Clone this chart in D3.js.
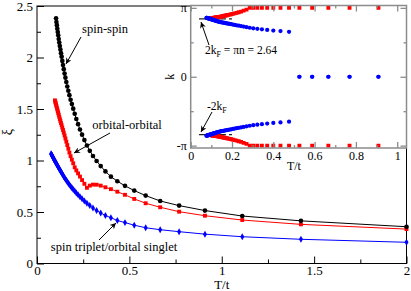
<!DOCTYPE html>
<html><head><meta charset="utf-8">
<script src="https://cdn.jsdelivr.net/npm/d3@7"></script>
<style>body{margin:0;background:#fff}svg{display:block}svg text{font-family:"Liberation Serif","Times New Roman",Tinos,"Nimbus Roman","DejaVu Serif",serif !important;fill:#000}</style>
</head><body><svg id="c" width="411" height="291"></svg>
<script>
// Temperatures T/t of the data points (shared by all series)
const T = [2.0000,1.4286,1.1111,0.9091,0.7692,0.6667,0.5882,0.5263,0.4762,0.4348,0.4000,0.3704,0.3448,0.3226,0.3030,0.2857,0.2703,0.2564,0.2439,0.2326,0.2222,0.2128,0.2041,0.1961,0.1887,0.1818,0.1754,0.1695,0.1639,0.1587,0.1538,0.1493,0.1449,0.1408,0.1370,0.1333,0.1299,0.1266,0.1235,0.1205,0.1176,0.1149,0.1124,0.1099,0.1075,0.1053,0.1031,0.1010,0.0990,0.0971,0.0952,0.0935,0.0917,0.0901,0.0885,0.0870,0.0855,0.0840,0.0826,0.0813,0.0800,0.0787,0.0775,0.0763];
// correlation lengths xi
const spinSpin = [0.357,0.414,0.461,0.514,0.562,0.607,0.659,0.708,0.754,0.799,0.843,0.894,0.946,0.995,1.044,1.094,1.146,1.198,1.251,1.301,1.353,1.403,1.454,1.503,1.548,1.590,1.634,1.677,1.718,1.762,1.804,1.844,1.887,1.927,1.967,2.008,2.042,2.077,2.112,2.145,2.180,2.215,2.247,2.280,2.314,2.345,2.380];
const orbOrb = [0.334,0.380,0.422,0.464,0.503,0.546,0.585,0.627,0.667,0.697,0.722,0.740,0.756,0.765,0.766,0.756,0.735,0.774,0.810,0.844,0.875,0.904,0.934,0.973,1.008,1.042,1.077,1.114,1.150,1.183,1.214,1.243,1.271,1.296,1.320,1.343,1.364,1.384,1.403,1.424,1.444,1.462,1.479,1.497,1.513,1.528,1.543,1.558,1.571,1.584];
const tripSing = [0.206,0.235,0.260,0.285,0.309,0.328,0.347,0.372,0.397,0.418,0.444,0.466,0.491,0.515,0.538,0.563,0.585,0.606,0.629,0.649,0.667,0.685,0.703,0.719,0.735,0.749,0.764,0.780,0.794,0.807,0.820,0.832,0.845,0.858,0.869,0.880,0.890,0.900,0.910,0.919,0.929,0.937,0.945,0.953,0.961,0.968,0.975,0.982,0.988,0.995,1.001,1.007,1.013,1.018,1.024,1.029,1.034,1.039,1.044,1.048,1.053,1.057,1.061,1.065];
// inset: wavevector k of the correlation (shown at +k and -k)
const kBlue = [0,0,0,0,0,0,0,0,2.050,2.082,2.108,2.135,2.163,2.186,2.207,2.235,2.263,2.287,2.310,2.330,2.348,2.365,2.381,2.396,2.410,2.422,2.434,2.445,2.456,2.465,2.474,2.483,2.491,2.499,2.509,2.520,2.530,2.540,2.550,2.559,2.567,2.575,2.583,2.590,2.598,2.604,2.611,2.617,2.623,2.629,2.634,2.640,2.645,2.650,2.655,2.659,2.664,2.668,2.672,2.676,2.680,2.684,2.688,2.691];
const kRed = [3.142,3.142,3.142,3.142,3.142,3.142,3.142,3.142,3.142,3.142,3.142,3.142,3.142,3.142,3.142,3.142,3.060,3.015,2.973,2.942,2.916,2.892,2.870,2.851,2.835,2.820,2.806,2.793,2.781,2.769,2.758,2.749,2.741,2.734,2.728,2.722,2.716,2.710,2.705,2.700,2.695,2.690,2.686,2.682,2.678,2.674,2.670,2.667,2.663,2.660];
const kF2 = 2.64;
const kF2Range = [0.04, 0.2];
const xTicks = [0,0.5,1,1.5,2];
const yTicks = [0,0.5,1,1.5,2,2.5];
const insetXTicks = [0,0.2,0.4,0.6,0.8,1];
const insetKTicks = [-Math.PI,0,Math.PI];
const insetKLabels = ["-\u03c0","0","\u03c0"];

const FONT = '"Liberation Serif","Times New Roman",Tinos,"Nimbus Roman","DejaVu Serif",serif';
const svg = d3.select("#c");
const defs = svg.append("defs");
defs.append("marker").attr("id","ah").attr("viewBox","0 0 10 10").attr("refX",10).attr("refY",5)
  .attr("markerWidth",7).attr("markerHeight",6).attr("markerUnits","userSpaceOnUse").attr("orient","auto")
  .append("path").attr("d","M0,0 L10,5 L0,10 L3,5 z").attr("fill","#000");

// ---------- main plot ----------
const x = d3.scaleLinear().domain([0,2]).range([37,406.5]);
const y = d3.scaleLinear().domain([0,2.5]).range([263.5,6]);
const g = svg.append("g");

function minor(vals, step, lo, hi){ const r=[]; for(let v=lo; v<=hi+1e-9; v+=step){ if(!vals.some(t=>Math.abs(t-v)<1e-6)) r.push(+v.toFixed(4)); } return r; }

g.append("g").attr("transform",`translate(0,${y(0)})`)
  .call(d3.axisBottom(x).tickValues(xTicks).tickFormat(d3.format("")).tickSize(-7).tickSizeOuter(0).tickPadding(2));
g.append("g").attr("transform",`translate(0,${y(0)})`)
  .call(d3.axisBottom(x).tickValues(minor(xTicks,0.25,0,2)).tickFormat("").tickSize(-4).tickSizeOuter(0));
g.append("g").attr("transform",`translate(${x(0)},0)`)
  .call(d3.axisLeft(y).tickValues(yTicks).tickFormat(d3.format("")).tickSize(-7).tickSizeOuter(0).tickPadding(4));
g.append("g").attr("transform",`translate(${x(0)},0)`)
  .call(d3.axisLeft(y).tickValues(minor(yTicks,0.25,0,2.5)).tickFormat("").tickSize(-4).tickSizeOuter(0));
g.selectAll("g").attr("font-family",FONT);
g.selectAll(".tick text").attr("font-size",13).attr("font-family",FONT);
g.selectAll(".domain").remove();
g.selectAll(".tick line").attr("stroke","#000");
g.append("rect").attr("x",x(0)).attr("y",y(2.5)).attr("width",x(2)-x(0)).attr("height",y(0)-y(2.5))
  .attr("fill","none").attr("stroke","#000").attr("stroke-width",1);

g.append("text").attr("x",x(1)).attr("y",289).attr("text-anchor","middle").attr("font-size",13).attr("font-family",FONT).text("T/t");
g.append("text").attr("transform","translate(12,132) rotate(-90)").attr("text-anchor","middle").attr("font-size",14).attr("font-family",FONT).text("\u03be");

const line = d3.line().x(d=>x(d[0])).y(d=>y(d[1]));
function series(vals, color, sym, size){
  const pts = vals.map((v,i)=>[T[i],v]);
  g.append("path").attr("d",line(pts)).attr("fill","none").attr("stroke",color).attr("stroke-width",1);
  g.append("g").selectAll("path").data(pts).join("path")
    .attr("transform",d=>`translate(${x(d[0])},${y(d[1])})`)
    .attr("d",d3.symbol().type(sym).size(size)).attr("fill",color);
}
series(tripSing,"#0000ff",d3.symbolDiamond,14);
series(orbOrb,"#ff0000",d3.symbolSquare,15);
series(spinSpin,"#000000",d3.symbolCircle,17);

function arrow(x1,y1,x2,y2){ g.append("line").attr("x1",x1).attr("y1",y1).attr("x2",x2).attr("y2",y2)
  .attr("stroke","#000").attr("stroke-width",1).attr("marker-end","url(#ah)"); }
function label(xp,yp,s){ g.append("text").attr("x",xp).attr("y",yp).attr("text-anchor","middle").attr("font-size",12.5).attr("font-family",FONT).text(s); }
label(105,33,"spin-spin");
arrow(81,37,66,64);
label(127,129,"orbital-orbital");
arrow(110,133,74,153);
label(114,251,"spin triplet/orbital singlet");
arrow(99,240,116,223);

// ---------- inset ----------
const xi = d3.scaleLinear().domain([0,1.045]).range([190.7,406.5]);
const ki = d3.scaleLinear().domain([-3.25,3.25]).range([148,5.5]);
const gi = svg.append("g");
gi.append("rect").attr("x",xi(0)).attr("y",ki(3.25)).attr("width",xi(1.045)-xi(0)).attr("height",ki(-3.25)-ki(3.25)).attr("fill","#fff");
defs.append("clipPath").attr("id","ic").append("rect").attr("x",xi(0)).attr("y",ki(3.25)-3).attr("width",xi(1.045)-xi(0)+1).attr("height",ki(-3.25)-ki(3.25)+6);
const gc = gi.append("g").attr("clip-path","url(#ic)");

gc.selectAll("line.kf").data([kF2,-kF2]).join("line").attr("class","kf")
  .attr("x1",xi(kF2Range[0])).attr("x2",xi(kF2Range[1])).attr("y1",d=>ki(d)).attr("y2",d=>ki(d))
  .attr("stroke","#222").attr("stroke-width",1.2).attr("stroke-dasharray","7,3");

function ipts(vals, color, sym, size){
  const pts=[]; vals.forEach((v,i)=>{ pts.push([T[i],v]); pts.push([T[i],-v]); });
  gc.append("g").selectAll("path").data(pts.filter(d=>d[0]<=1.045)).join("path")
    .attr("transform",d=>`translate(${xi(d[0])},${ki(d[1])})`)
    .attr("d",d3.symbol().type(sym).size(size)).attr("fill",color);
}
ipts(kRed,"#ff0000",d3.symbolSquare,15);
ipts(kBlue,"#0000ff",d3.symbolCircle,14);

const gray="#8c8c8c";
function iax(axis, tr, vals, len, fmt){
  const a = gi.append("g").attr("transform",tr).call(axis.tickValues(vals).tickSize(len).tickSizeOuter(0).tickFormat(fmt||""));
  a.select(".domain").remove(); a.selectAll(".tick line").attr("stroke",gray).attr("stroke-width",1.3);
  a.attr("font-family",FONT);
  return a;
}
const xmin = minor(insetXTicks,0.1,0,1);
const kmin = [-Math.PI/2, Math.PI/2];
const bx = iax(d3.axisBottom(xi),`translate(0,${ki(-3.25)})`,insetXTicks,-6,d3.format(""));
iax(d3.axisBottom(xi),`translate(0,${ki(-3.25)})`,xmin,-3);
iax(d3.axisTop(xi),`translate(0,${ki(3.25)})`,insetXTicks,-6);
iax(d3.axisTop(xi),`translate(0,${ki(3.25)})`,xmin,-3);
const ly = iax(d3.axisLeft(ki),`translate(${xi(0)},0)`,insetKTicks,-6,(d,i)=>insetKLabels[i]);
iax(d3.axisLeft(ki),`translate(${xi(0)},0)`,kmin,-3);
iax(d3.axisRight(ki),`translate(${xi(1.045)},0)`,insetKTicks,-6);
iax(d3.axisRight(ki),`translate(${xi(1.045)},0)`,kmin,-3);
bx.selectAll("text").attr("font-size",12).attr("font-family",FONT).attr("y",3);
ly.selectAll("text").attr("font-size",12).attr("font-family",FONT).attr("x",-4);
gi.append("rect").attr("x",xi(0)).attr("y",ki(3.25)).attr("width",xi(1.045)-xi(0)).attr("height",ki(-3.25)-ki(3.25))
  .attr("fill","none").attr("stroke",gray).attr("stroke-width",1.5);
gi.append("text").attr("x",xi(0.5)).attr("y",170).attr("text-anchor","middle").attr("font-size",12).attr("font-family",FONT).text("T/t");
gi.append("text").attr("transform",`translate(174,${ki(0)}) rotate(-90)`).attr("text-anchor","middle").attr("font-size",12).attr("font-family",FONT).text("k");

const t1 = gi.append("text").attr("x",205).attr("y",54).attr("font-size",11.5).attr("font-family",FONT);
t1.append("tspan").text("2k");
t1.append("tspan").attr("font-size",8).attr("dy",3).text("F");
t1.append("tspan").attr("dy",-3).text(" = \u03c0n = 2.64");
const t2 = gi.append("text").attr("x",207).attr("y",110).attr("font-size",11.5).attr("font-family",FONT);
t2.append("tspan").text("-2k");
t2.append("tspan").attr("font-size",8).attr("dy",3).text("F");
function iarrow(x1,y1,x2,y2){ gi.append("line").attr("x1",x1).attr("y1",y1).attr("x2",x2).attr("y2",y2)
  .attr("stroke","#000").attr("stroke-width",1).attr("marker-end","url(#ah)"); }
iarrow(209,45,201,22);
iarrow(212,112,201,132);
</script></body></html>
